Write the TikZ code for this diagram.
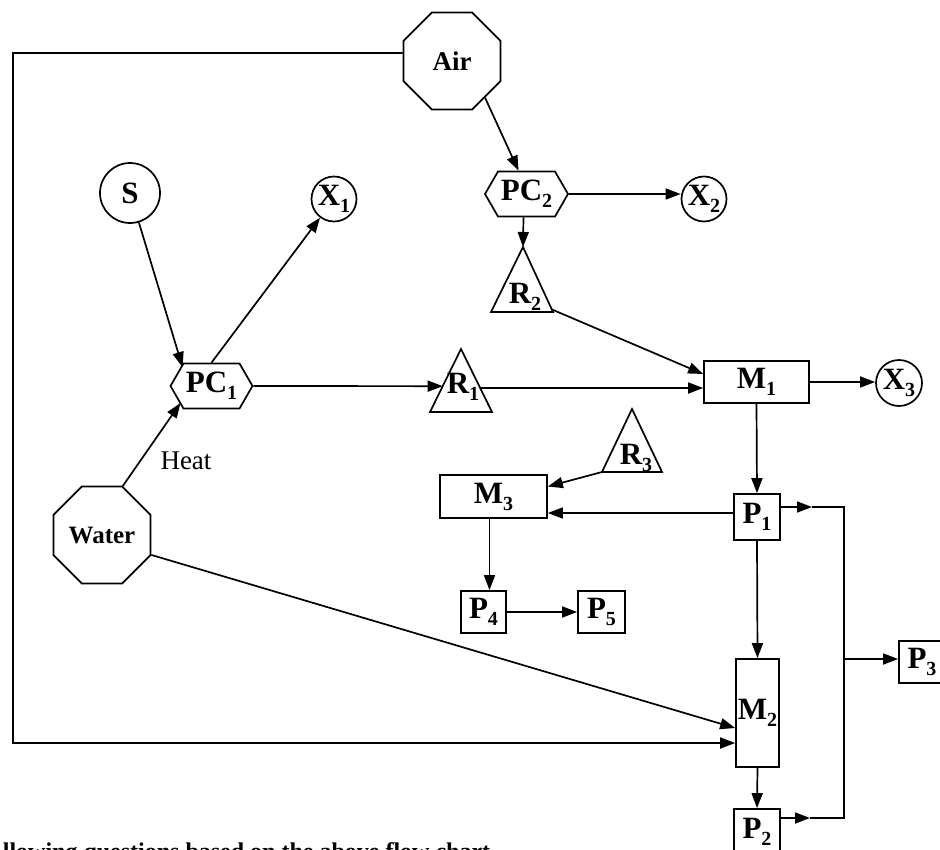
\documentclass[tikz,border=0pt]{standalone}
\usepackage{fontspec}
\setmainfont{Liberation Serif}
\usetikzlibrary{shapes.geometric,shapes.symbols,arrows.meta,calc}
\newcommand\subsc[1]{\raisebox{-7pt}{\fontsize{20}{20}\selectfont #1}}
\begin{document}
\begin{tikzpicture}[x=1pt,y=-1pt, line width=1.7pt,
  lab/.style={font=\fontsize{31}{33}\selectfont\bfseries, inner sep=0pt},
  octa/.style={draw, regular polygon, regular polygon sides=8, minimum size=105pt, inner sep=0pt, font=\fontsize{27}{29}\selectfont\bfseries},
  hexa/.style={draw, signal, signal to=west and east, signal pointer angle=120, minimum width=82pt, minimum height=45pt, lab},
  circ/.style={draw, circle, minimum size=45pt, lab},
  boxn/.style={draw, rectangle, lab},
  tri/.style={draw, line join=miter},
  arr/.style={-{Triangle[length=15pt,width=11pt]}}]
\useasboundingbox (0,0) rectangle (940,849);

% nodes
\node[octa] (Air) at (452,61) {Air};
\node[octa, font=\fontsize{25}{27}\selectfont\bfseries] (Water) at (102,535) {Water};
\node[circ, minimum size=60pt] (S) at (130,193) {S};
\node[circ] (X1) at (334,199) {X\subsc{1}};
\node[circ] (X2) at (704,199) {X\subsc{2}};
\node[circ, minimum size=46pt] (X3) at (899,383) {X\subsc{3}};
\node[hexa] (PC1) at (211.5,386) {PC\subsc{1}};
\node[hexa, minimum width=83pt] (PC2) at (526.5,194) {PC\subsc{2}};
\node[boxn, minimum width=105pt, minimum height=42pt] (M1) at (756.5,382) {M\subsc{1}};
\node[boxn, minimum width=107pt, minimum height=43pt] (M3) at (493.5,496.5) {M\subsc{3}};
\node[boxn, minimum width=43pt, minimum height=108pt] (M2) at (757.5,713) {M\subsc{2}};
\node[boxn, minimum width=46pt, minimum height=46pt] (P1) at (757,517) {P\subsc{1}};
\node[boxn, minimum width=46pt, minimum height=46pt] (P2) at (757,832) {P\subsc{2}};
\node[boxn, minimum width=46pt, minimum height=42pt] (P3) at (922,662) {P\subsc{3}};
\node[boxn, minimum width=45pt, minimum height=42pt] (P4) at (483.5,612) {P\subsc{4}};
\node[boxn, minimum width=47pt, minimum height=42pt] (P5) at (601.5,612) {P\subsc{5}};

% triangles
\coordinate (R1t) at (461,349); \coordinate (R1l) at (430,412); \coordinate (R1r) at (492,412);
\draw[tri] (R1t) -- (R1l) -- (R1r) -- cycle;
\node[lab, anchor=base] (R1) at (463,393) {R\subsc{1}};
\coordinate (R2t) at (523,247); \coordinate (R2l) at (491,312); \coordinate (R2r) at (553,312);
\draw[tri] (R2t) -- (R2l) -- (R2r) -- cycle;
\node[lab, anchor=base] (R2) at (525,303) {R\subsc{2}};
\coordinate (R3t) at (632,409); \coordinate (R3l) at (602,472); \coordinate (R3r) at (662,472);
\draw[tri] (R3t) -- (R3l) -- (R3r) -- cycle;
\node[lab, anchor=base] (R3) at (636,464) {R\subsc{3}};

\node[font=\fontsize{27}{29}\selectfont, inner sep=0pt] (heat) at (186,461) {Heat};

% connectors
\draw[arr] (Air.-48) -- ($(PC2.north)+(-8,0)$);
\draw[arr] ($(Air.west)+(0,-8)$) -- (13,53) -- (13,743) -- ($(M2.west)+(0,30)$);
\draw[arr] (S) -- ($(PC1.center)+(-29,-19)$);
\draw[arr] (PC1.north) -- (X1);
\draw[arr] (Water.67.5) -- ($(PC1.center)+(-31,17)$);
\draw[arr] (Water.-22.5) -- ($(M2.west)+(0,15)$);
\draw[arr] (PC1.east) -- ($(R1t)!0.59!(R1l)$);
\draw[arr] ($(R1t)!0.62!(R1r)$) -- ($(M1.west)+(0,6)$);
\draw[arr] ($(R2t)!0.96!(R2r)$) -- ($(M1.west)+(0,-8)$);
\draw[arr] ($(PC2.south)+(-3,0)$) -- (R2t);
\draw[arr] (PC2.east) -- (PC2.east -| X2.west);
\draw[arr] (M1.east) -- (M1.east -| X3.west);
\draw[arr] (M1.south) -- (P1.north);
\draw[arr] (R3l) -- ($(M3.east)+(0,-10)$);
\draw[arr] ($(P1.west)+(0,-4)$) -- ($(M3.east)+(0,16.5)$);
\draw[arr] ($(M3.south)+(-4,0)$) -- ($(P4.north)+(6,0)$);
\draw[arr] (P4) -- (P5);
\draw[arr] (P1.south) -- (M2.north);
\draw[arr] (M2.south) -- (P2.north);

\coordinate (c1) at (844,507);
\coordinate (c2) at (844,818);
\coordinate (c3) at (844,659);
\coordinate (a1) at (812,507);
\coordinate (a2) at (810,818);
\draw[arr] ($(P1.east)+(0,-10)$) -- (a1);
\draw (a1) -- (c1) -- (c2) -- (a2);
\draw[arr] ($(P2.east)+(0,-14)$) -- (a2);
\draw[arr] (c3) -- (c3 -| P3.west);

\node[anchor=base west, font=\fontsize{24}{26}\selectfont\bfseries, inner sep=0pt] (qtext) at (2,859) {llowing questions based on the above flow chart.};
\end{tikzpicture}
\end{document}
